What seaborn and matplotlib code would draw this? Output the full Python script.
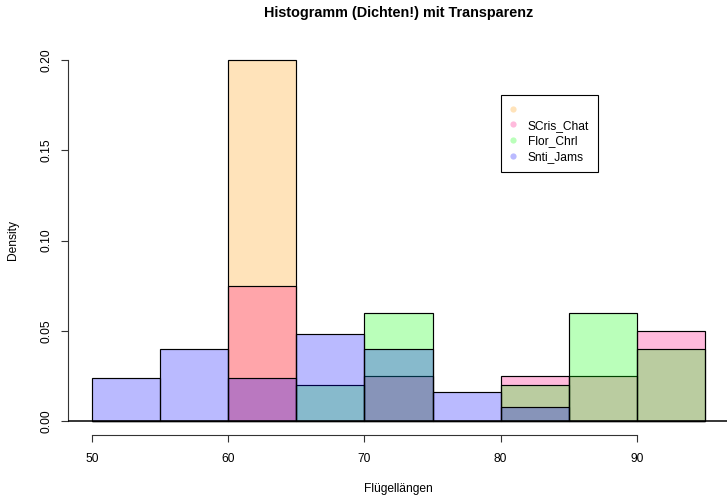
import numpy as np
import pandas as pd
import matplotlib
matplotlib.use("Agg")
import matplotlib.pyplot as plt
from matplotlib.lines import Line2D
import seaborn as sns

# ---- data (counts per 5-unit bin) ----
bin_edges = [50, 55, 60, 65, 70, 75, 80, 85, 90, 95]
bin_mids = [52.5, 57.5, 62.5, 67.5, 72.5, 77.5, 82.5, 87.5, 92.5]
series_names = ["", "SCris_Chat", "Flor_Chrl", "Snti_Jams"]
counts_orange = [0, 0, 5, 0, 0, 0, 0, 0, 0]
counts_scris = [0, 0, 3, 0, 1, 0, 1, 1, 2]
counts_flor = [0, 0, 0, 1, 3, 0, 1, 3, 2]
counts_snti = [3, 5, 3, 6, 5, 2, 1, 0, 0]
series_colors = [(1.0, 0.6, 0.0), (1.0, 0.0, 0.5), (0.0, 1.0, 0.0), (0.0, 0.0, 1.0)]
alpha = 0.27
x_ticks = [50, 60, 70, 80, 90]
y_ticks = [0.00, 0.05, 0.10, 0.15, 0.20]
title = "Histogramm (Dichten!) mit Transparenz"
xlabel = "Flügellängen"
ylabel = "Density"

sns.set_theme(style="ticks")
plt.rcParams["font.family"] = ["Liberation Sans", "DejaVu Sans"]
plt.rcParams["text.color"] = "black"
plt.rcParams["axes.labelcolor"] = "black"
plt.rcParams["xtick.color"] = "black"
plt.rcParams["ytick.color"] = "black"
FS = 8.64

W, H = 727, 495
fig = plt.figure(figsize=(W / 100, H / 100), dpi=100)
left_px, right_px, top_px, bot_px = 67.5, 729.5, 45.6, 435.4
ax = fig.add_axes([left_px / W, 1 - bot_px / H, (right_px - left_px) / W, (bot_px - top_px) / H])

all_counts = [counts_orange, counts_scris, counts_flor, counts_snti]
for name, cnts, col in zip(series_names, all_counts, series_colors):
    df = pd.DataFrame({"x": bin_mids, "w": cnts})
    sns.histplot(data=df, x="x", weights="w", bins=bin_edges, stat="density",
                 color=col, alpha=alpha, edgecolor="black", linewidth=0.85, ax=ax)

ax.axhline(0, color="black", linewidth=1.1, zorder=5)

ax.set_xlim(48.2, 96.8)
ax.set_ylim(-0.008, 0.208)
sns.despine(ax=ax, top=True, right=True)
ax.spines["left"].set_bounds(0, 0.2)
ax.spines["bottom"].set_bounds(50, 90)
for s in ("left", "bottom"):
    ax.spines[s].set_color("#333333")
    ax.spines[s].set_linewidth(0.8)

ax.set_xticks(x_ticks)
ax.set_xticklabels([str(v) for v in x_ticks], fontsize=FS)
ax.set_yticks(y_ticks)
ax.set_yticklabels([f"{v:.2f}" for v in y_ticks], fontsize=FS, rotation=90, va="center")
ax.tick_params(axis="both", length=5, width=0.8, color="#333333", labelcolor="black")
ax.tick_params(axis="x", pad=8)
ax.tick_params(axis="y", pad=6)
ax.set_xlabel("")
ax.set_ylabel("")

fig.text((left_px + right_px) / 2 / W, 1 - 489 / H, xlabel, ha="center", va="center",
         fontsize=FS, color="black")
fig.text(13 / W, 1 - (top_px + bot_px) / 2 / H, ylabel, ha="center", va="center",
         rotation=90, fontsize=FS, color="black")
fig.text((left_px + right_px) / 2 / W, 1 - 13 / H, title, ha="center", va="center",
         fontsize=10.4, fontweight="bold", color="black")

handles = [Line2D([], [], marker="o", linestyle="", markersize=4.5,
                  markerfacecolor=(*c, alpha), markeredgecolor="none") for c in series_colors]
labels = [n if n else " " for n in series_names]
leg = ax.legend(handles, labels, loc="upper left", bbox_to_anchor=(80, 0.1806),
                bbox_transform=ax.transData, fontsize=FS, frameon=True, fancybox=False,
                edgecolor="black", framealpha=1, borderpad=0.75, borderaxespad=0,
                handlelength=0.5, handletextpad=1.0, labelspacing=0.3)
leg.get_frame().set_linewidth(0.8)
for t in leg.get_texts():
    t.set_color("black")

fig.savefig("out.png", dpi=100)
